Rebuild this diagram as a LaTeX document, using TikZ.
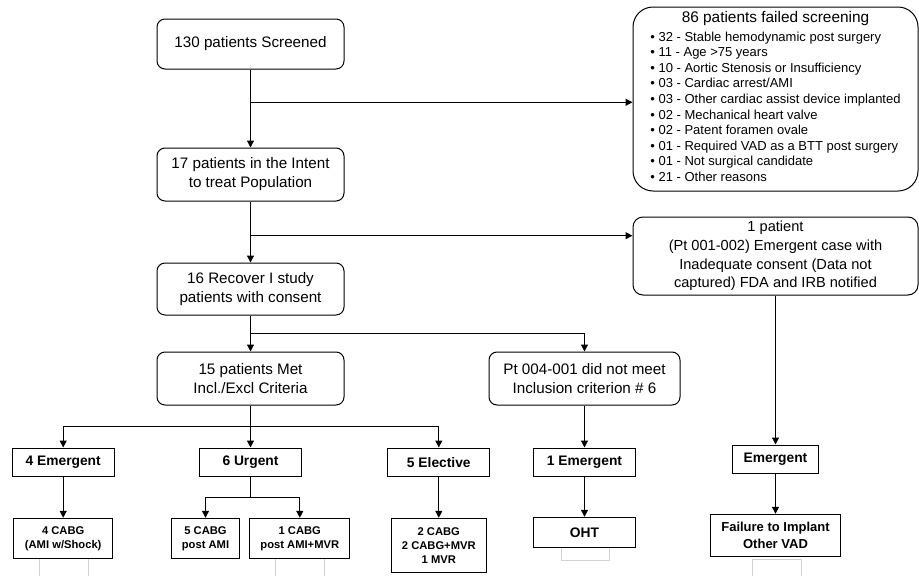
\documentclass[tikz,border=0pt]{standalone}
\usepackage{fontspec}
\setmainfont{Liberation Sans}
\usepackage{tikz}
\usetikzlibrary{arrows.meta,positioning,calc}
\tikzset{
  rbox/.style={draw, rounded corners=8pt, line width=1pt, align=center, inner sep=2pt, font=\fontsize{15.2}{19}\selectfont},
  sbox/.style={draw, line width=1.3pt, align=center, inner sep=2pt, font=\bfseries\fontsize{13.8}{16.5}\selectfont},
  ssub/.style={sbox, font=\bfseries\fontsize{11.2}{14}\selectfont},
  arr/.style={-{Triangle[length=7pt,width=7pt]}, line width=1.2pt},
  ghost/.style={draw=gray!35, line width=0.5pt},
}

\begin{document}
\begin{tikzpicture}[x=1pt, y=-1pt]
\useasboundingbox (0,0) rectangle (919,576);
% main column
\node[rbox, minimum width=187pt, minimum height=50pt] (scr) at (250.5,44) {130 patients Screened};
\node[rbox, minimum width=187pt, minimum height=53pt, below=78pt of scr] (itt) {17 patients in the Intent\\to treat Population};
\node[rbox, minimum width=187pt, minimum height=52pt, below=61pt of itt] (rec) {16 Recover I study\\patients with consent};
\node[rbox, minimum width=187pt, minimum height=53pt, below=36pt of rec] (met) {15 patients Met\\Incl./Excl Criteria};
\node[rbox, minimum width=191pt, minimum height=53pt, right=144pt of met] (ptx) {Pt 004-001 did not meet\\Inclusion criterion \# 6};
% side boxes
\node[rbox, rounded corners=20pt, minimum width=285pt, minimum height=184pt] (fail) at (775.5,99)
  {{\fontsize{15.4}{18}\selectfont 86 patients failed screening}\\[3pt]
   {\fontsize{13}{15.6}\selectfont\begin{tabular}{@{}l@{}}
   • 32 - Stable hemodynamic post surgery\\
   • 11 - Age >75 years\\
   • 10 - Aortic Stenosis or Insufficiency\\
   • 03 - Cardiac arrest/AMI\\
   • 03 - Other cardiac assist device implanted\\
   • 02 - Mechanical heart valve\\
   • 02 - Patent foramen ovale\\
   • 01 - Required VAD as a BTT post surgery\\
   • 01 - Not surgical candidate\\
   • 21 - Other reasons
   \end{tabular}}};
\node[rbox, rounded corners=10pt, minimum width=285pt, minimum height=78pt, font=\fontsize{14.6}{18.7}\selectfont] (onep) at (775.5,256)
  {1 patient\\(Pt 001-002) Emergent case with\\Inadequate consent (Data not\\captured) FDA and IRB notified};
% first level of square boxes
\node[sbox, minimum width=102pt, minimum height=28pt, below=42pt of met] (urg) {6 Urgent};
\node[sbox, minimum width=102pt, minimum height=28pt, left=84pt of urg] (em4) {4 Emergent};
\node[sbox, minimum width=102pt, minimum height=28pt, right=85pt of urg] (ele) {5 Elective};
\node[sbox, minimum width=102pt, minimum height=28pt, below=42pt of ptx] (em1) {1 Emergent};
\node[sbox, minimum width=86pt, minimum height=28pt, below=149pt of onep] (emr) {Emergent};
% second level
\node[ssub, minimum width=99pt, minimum height=40pt, below=41pt of em4] (cabg4) {4 CABG\\(AMI w/Shock)};
\node[ssub, minimum width=68pt, minimum height=40pt, below=41pt of urg, xshift=-45pt] (cabg5) {5 CABG\\post AMI};
\node[ssub, minimum width=100pt, minimum height=40pt, right=9pt of cabg5] (cabg1) {1 CABG\\post AMI+MVR};
\node[ssub, minimum width=95pt, minimum height=54pt, below=41pt of ele] (mix) {2 CABG\\2 CABG+MVR\\1 MVR};
\node[sbox, minimum width=102pt, minimum height=30pt, below=40pt of em1] (oht) {OHT};
\node[sbox, minimum width=130pt, minimum height=42pt, font=\bfseries\fontsize{13}{16.5}\selectfont, below=40pt of emr] (fti) {Failure to Implant\\Other VAD};
% branch points
\coordinate (j1) at ($(scr.south)!0.42!(itt.north)$);
\coordinate (j2) at ($(itt.south)!0.56!(rec.north)$);
\coordinate (j3) at ($(rec.south)!0.5!(met.north)$);
\coordinate (j4) at ($(met.south)!0.5!(urg.north)$);
\coordinate (j5) at ($(urg.south)!0.5!(urg.south |- cabg5.north)$);
% connectors
\draw[arr] (scr) -- (itt);
\draw[arr] (j1) -- (j1 -| fail.west);
\draw[arr] (itt) -- (rec);
\draw[arr] (j2) -- (j2 -| onep.west);
\draw[arr] (rec) -- (met);
\draw[arr] (j3) -| (ptx.north);
\draw[arr] (met) -- (urg);
\draw[arr] (j4) -| (em4.north);
\draw[arr] (j4) -| (ele.north);
\draw[arr] (em4) -- (cabg4);
\draw[line width=1.2pt] (urg.south) -- (j5);
\draw[arr] (j5) -| (cabg5.north);
\draw[arr] (j5) -| (cabg1.north);
\draw[arr] (ele) -- (mix);
\draw[arr] (ptx) -- (em1);
\draw[arr] (em1) -- (oht);
\draw[arr] (onep) -- (emr);
\draw[arr] (emr) -- (fti);
% faint leftovers under the bottom boxes
\draw[ghost] ($(cabg4.south)+(-24,0)$) -- ++(0,24) ($(cabg4.south)+(25,0)$) -- ++(0,24);
\draw[ghost] ($(cabg1.south)+(-25,0)$) -- ++(0,24) ($(cabg1.south)+(24,0)$) -- ++(0,24);
\draw[ghost] ($(oht.south)+(-23,0)$) -- ++(0,12) -- ++(48,0) -- ++(0,-12);
\draw[ghost] ($(fti.south)+(-23,24)$) -- ++(0,-22) -- ++(49,0) -- ++(0,22);
\end{tikzpicture}
\end{document}
